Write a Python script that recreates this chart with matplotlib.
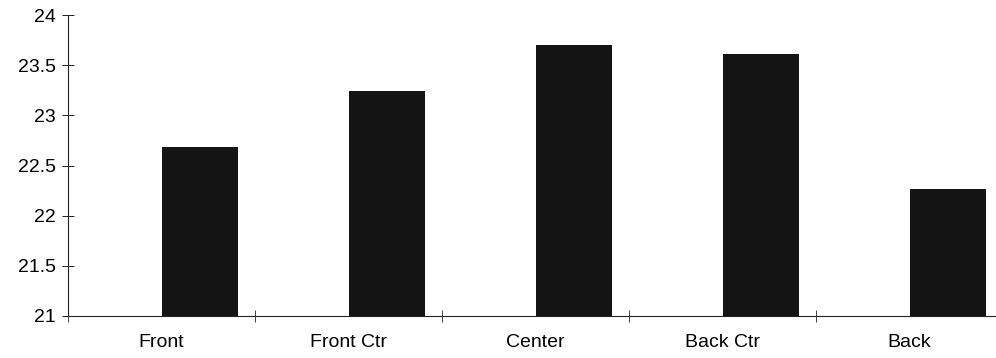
import matplotlib.pyplot as plt
import numpy as np

plt.rcParams['font.family'] = ['Liberation Sans', 'DejaVu Sans']

positions = ['Front', 'Front Ctr', 'Center', 'Back Ctr', 'Back']
values = [22.68, 23.24, 23.70, 23.61, 22.27]
yticks = [21, 21.5, 22, 22.5, 23, 23.5, 24]
ytick_labels = ['21', '21.5', '22', '22.5', '23', '23.5', '24']

fig = plt.figure(figsize=(9.96, 3.58), dpi=100)
ax = fig.add_axes([68 / 996, 42 / 358, 935 / 996, 301 / 358])

x = np.arange(len(positions))
# bars sit in the right half of each category slot
ax.bar(x, np.array(values) - 21, bottom=21, width=0.41, align='edge',
       color='#141414', edgecolor='none')

ax.set_xlim(-0.5, 4.5)
ax.set_ylim(21, 24)
ax.set_yticks(yticks)
ax.set_yticklabels(ytick_labels)
ax.set_xticks(x)
ax.set_xticklabels(positions)
ax.set_xticks(np.arange(-0.5, 5, 1), minor=True)

for side in ['top', 'right']:
    ax.spines[side].set_visible(False)
for side in ['left', 'bottom']:
    ax.spines[side].set_linewidth(0.8)
    ax.spines[side].set_color('#222222')

ax.tick_params(axis='y', direction='inout', length=8, width=0.7, pad=5,
               labelsize=14, colors='#222222', labelcolor='black')
ax.tick_params(axis='x', which='major', length=0, pad=13, labelsize=14)
ax.tick_params(axis='x', which='minor', direction='inout', length=8, width=0.7,
               colors='#444444')

fig.savefig('out.png', dpi=100)
